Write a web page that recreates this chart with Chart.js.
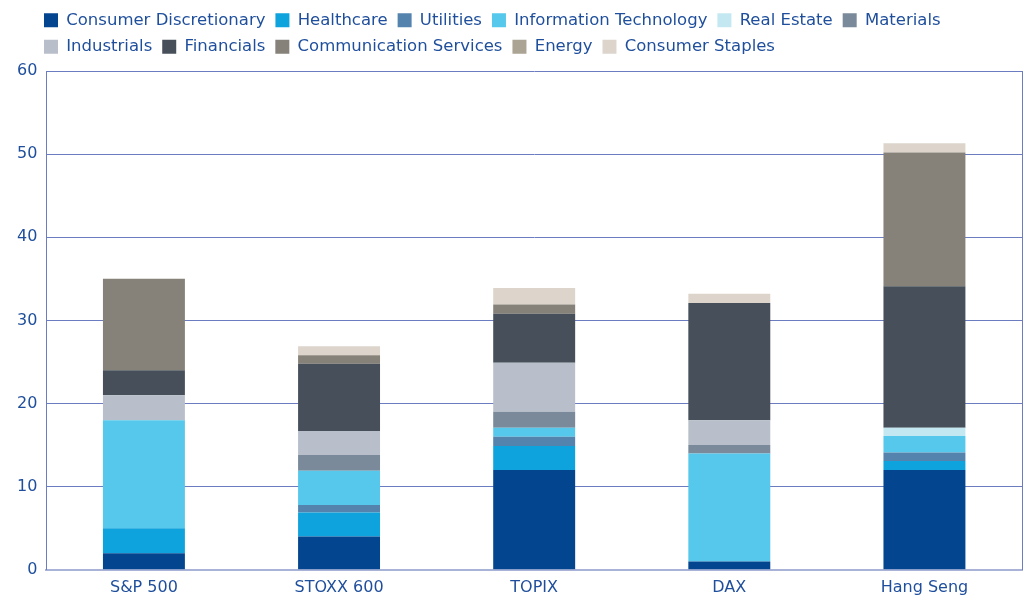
<!DOCTYPE html>
<html>
<head>
<meta charset="utf-8">
<script src="https://cdn.jsdelivr.net/npm/chart.js@4/dist/chart.umd.min.js"></script>
<style>
  body { margin: 0; background: #fff; }
  #wrap { width: 1025px; height: 598px; }
</style>
</head>
<body>
<div id="wrap"><canvas id="sectorChart" width="1025" height="598"></canvas></div>
<script>
const indices = ["S&P 500", "STOXX 600", "TOPIX", "DAX", "Hang Seng"];

const consumerDiscretionary = [2, 4, 12, 1, 12];
const healthcare = [3, 2.9, 2.9, 0, 1.1];
const utilities = [0, 0.9, 1.1, 0, 1];
const infoTech = [13, 4.1, 1.1, 13, 2];
const realEstate = [0, 0, 0, 0, 1];
const materials = [0, 1.9, 1.9, 1, 0];
const industrials = [3, 2.9, 5.9, 3, 0];
const financials = [3, 8.1, 5.9, 14.1, 17];
const commServices = [11, 1, 1.1, 0, 16.1];
const energy = [0, 0, 0, 0, 0];
const consumerStaples = [0, 1.1, 2, 1.1, 1.1];

const yTicks = [0, 10, 20, 30, 40, 50, 60];

const textColor = "#1f4f9c";
const gridColor = "#6b7cc0";
const baseColor = "#a9b3d8";
const fontFamily = "DejaVu Sans";

const series = [
  ["Consumer Discretionary", consumerDiscretionary, "#03468f"],
  ["Healthcare", healthcare, "#0ea3dd"],
  ["Utilities", utilities, "#5484ad"],
  ["Information Technology", infoTech, "#55c8eb"],
  ["Real Estate", realEstate, "#c4e8f2"],
  ["Materials", materials, "#7a8a9a"],
  ["Industrials", industrials, "#b8bfca"],
  ["Financials", financials, "#47505a"],
  ["Communication Services", commServices, "#868279"],
  ["Energy", energy, "#aba393"],
  ["Consumer Staples", consumerStaples, "#ddd5cc"]
];

// push legend a bit right and leave more room under it
const legendTweak = {
  id: "legendTweak",
  beforeInit(chart) {
    const fit = chart.legend.fit;
    chart.legend.fit = function() {
      fit.call(this);
      this.height += 6;
    };
  },
  afterLayout(chart) {
    chart.legend.left += 26;
  }
};

const ctx = document.getElementById("sectorChart").getContext("2d");
new Chart(ctx, {
  type: "bar",
  data: {
    labels: indices,
    datasets: series.map(([label, data, color]) => ({
      label: label,
      data: data,
      backgroundColor: color,
      borderWidth: 0,
      barPercentage: 0.42,
      categoryPercentage: 1
    }))
  },
  plugins: [legendTweak],
  options: {
    responsive: false,
    animation: false,
    layout: { padding: { left: 8, right: 3, top: 2, bottom: -7 } },
    plugins: {
      tooltip: { enabled: false },
      legend: {
        position: "top",
        align: "start",
        labels: {
          boxWidth: 14,
          boxHeight: 14,
          padding: 10,
          color: textColor,
          font: { family: fontFamily, size: 16.5 }
        }
      }
    },
    scales: {
      x: {
        stacked: true,
        grid: { display: false, drawTicks: false },
        border: { color: baseColor, width: 2 },
        ticks: {
          color: textColor,
          padding: 8,
          font: { family: fontFamily, size: 16 }
        }
      },
      y: {
        stacked: true,
        min: 0,
        max: 60,
        afterBuildTicks: axis => { axis.ticks = yTicks.map(v => ({ value: v })); },
        grid: {
          drawTicks: false,
          color: c => (c.tick && c.tick.value === 0 ? baseColor : gridColor)
        },
        border: { color: gridColor },
        ticks: {
          color: textColor,
          padding: 9,
          font: { family: fontFamily, size: 16 }
        }
      },
      yRight: {
        position: "right",
        min: 0,
        max: 60,
        grid: { display: false, drawTicks: false },
        border: { color: gridColor },
        ticks: { display: false }
      }
    }
  }
});
</script>
</body>
</html>
